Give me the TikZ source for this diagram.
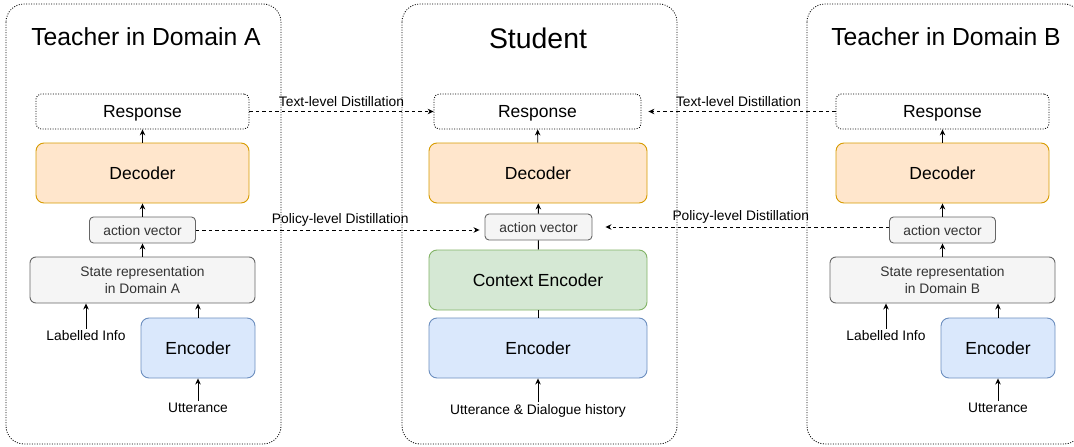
\documentclass[tikz,border=0pt]{standalone}
\usepackage{fontspec}
\setmainfont{Liberation Sans}
\usetikzlibrary{arrows.meta}
\definecolor{decfill}{HTML}{FFE6CC}
\definecolor{decdraw}{HTML}{D79B00}
\definecolor{encfill}{HTML}{DAE8FC}
\definecolor{encdraw}{HTML}{6C8EBF}
\definecolor{ctxfill}{HTML}{D5E8D4}
\definecolor{ctxdraw}{HTML}{82B366}
\definecolor{vecfill}{HTML}{F5F5F5}
\definecolor{vecdraw}{HTML}{666666}
\definecolor{vectext}{HTML}{333333}
\tikzset{basic/.style={draw,line width=0.9pt,rounded corners=8pt,inner sep=0pt,text depth=0pt,
                       align=center,font=\fontsize{17.5}{21}\selectfont}}
\tikzset{response/.style={basic,dash pattern=on 1pt off 1.5pt,line width=0.8pt,
                          rounded corners=5pt,minimum width=213pt,minimum height=35pt}}
\tikzset{decoder/.style={basic,fill=decfill,draw=decdraw,minimum width=213pt,minimum height=60pt}}
\tikzset{encoder/.style={basic,fill=encfill,draw=encdraw,minimum width=114pt,minimum height=60pt}}
\tikzset{context/.style={basic,fill=ctxfill,draw=ctxdraw,minimum width=218pt,minimum height=60pt}}
\tikzset{vecbox/.style={basic,fill=vecfill,draw=vecdraw,text=vectext,rounded corners=4pt,
                        minimum width=106pt,minimum height=26pt,font=\fontsize{13.8}{17}\selectfont}}
\tikzset{statebox/.style={vecbox,rounded corners=6pt,minimum width=225pt,minimum height=46pt}}
\tikzset{inlabel/.style={inner sep=2pt,font=\fontsize{13.8}{17}\selectfont}}
\tikzset{title/.style={font=\fontsize{24.7}{30}\selectfont}}
\tikzset{panel/.style={draw,dash pattern=on 1pt off 1.5pt,line width=0.8pt,rounded corners=18pt}}
\tikzset{arr/.style={-{Stealth[length=6pt,width=5.5pt]},line width=0.9pt}}
\tikzset{distil/.style={arr,dash pattern=on 3.5pt off 3pt}}

\begin{document}
\begin{tikzpicture}[x=1pt,y=-1pt]
        \useasboundingbox (0,0) rectangle (1074,447);
        % Panels
        \foreach \px in {6,402,807}{%
              \draw[panel] (\px,4) rectangle ++(275,440);
            }
        % Teachers
        \foreach \d/\dx in {A/0,B/800}{%
          \begin{scope}[xshift=\dx]
              \node[title] (title\d) at (146,37) {Teacher in Domain \d};
              \node[response] (resp\d) at (142.5,111.5) {Response};
              \node[decoder] (dec\d) at (142.5,173) {Decoder};
              \node[vecbox] (vec\d) at (142.5,230) {action vector};
              \node[statebox] (state\d) at (142.5,280) {State representation\\in Domain \d};
              \node[encoder] (enc\d) at (198,348) {Encoder};
              \node[inlabel] (info\d) at (86,336) {Labelled Info};
              \node[inlabel] (utt\d) at (198,408) {Utterance};
          \end{scope}
              \draw[arr] (info\d) -- (info\d |- state\d.south);
              \draw[arr] (utt\d) -- (enc\d);
              \draw[arr] (enc\d) -- (enc\d |- state\d.south);
              \draw[arr] (state\d) -- (vec\d);
              \draw[arr] (vec\d) -- (dec\d);
              \draw[arr] (dec\d) -- (resp\d);
            }
        % Student
        \node[title,font=\fontsize{28.4}{34}\selectfont] (titleS) at (538,38) {Student};
        \node[response,minimum width=207pt] (resp) at (537.5,111.5) {Response};
        \node[decoder,minimum width=218pt] (dec) at (538,173) {Decoder};
        \node[vecbox,minimum width=107pt] (vec) at (538.5,227) {action vector};
        \node[context] (ctx) at (538,280) {Context Encoder};
        \node[encoder,minimum width=218pt] (enc) at (538,348) {Encoder};
        \node[inlabel] (hist) at (538,411) {Utterance \& Dialogue history};
        \draw[arr] (hist) -- (enc);
        \draw[line width=0.9pt] (enc) -- (ctx);
        \draw[line width=0.9pt] (ctx) -- (vec);
        \draw[arr] (vec) -- (dec);
        \draw[arr] (dec) -- (resp);
        % Distillation
        \draw[distil] (respA.east) -- node[inlabel,above=2pt] {Text-level Distillation} (resp.west);
        \draw[distil,shorten >=5pt] (vecA.east) -- node[inlabel,above=1pt] {Policy-level Distillation}
              (vecA.east -| vec.west);
        \draw[distil,shorten >=7pt] (respB.west) -- node[inlabel,above=2pt] {Text-level Distillation} (resp.east);
        \draw[distil,shorten >=13pt] ([yshift=3pt]vecB.west) -- node[inlabel,above=1pt] {Policy-level Distillation}
              ([yshift=3pt]vecB.west -| vec.east);
\end{tikzpicture}
\end{document}
